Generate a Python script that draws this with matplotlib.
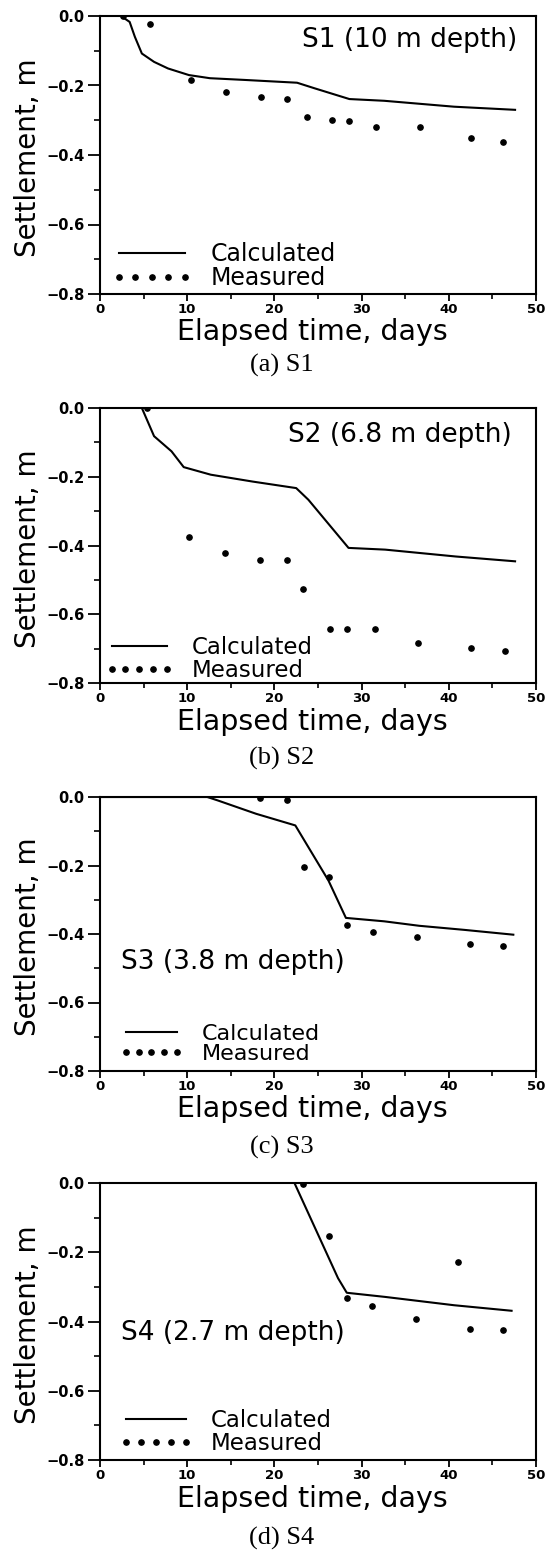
import matplotlib
matplotlib.use('Agg')
import matplotlib.pyplot as plt
import matplotlib.ticker as ticker
from matplotlib.lines import Line2D

# values (days, settlement in m)
s1_calc_days = [2.4, 3.4, 4.0, 4.8, 6.2, 7.8, 10.2, 12.6, 16.6, 22.6, 24.6, 28.6, 32.6, 40.6, 47.6]
s1_calc_settle = [0.0, -0.017, -0.060, -0.108, -0.132, -0.151, -0.170, -0.179, -0.184, -0.192, -0.208, -0.239, -0.244, -0.261, -0.270]
s1_meas_days = [2.6, 5.7, 10.4, 14.5, 18.5, 21.5, 23.7, 26.6, 28.6, 31.6, 36.7, 42.5, 46.2]
s1_meas_settle = [0.0, -0.022, -0.184, -0.220, -0.233, -0.238, -0.291, -0.299, -0.301, -0.318, -0.320, -0.352, -0.362]

s2_calc_days = [4.8, 6.2, 8.2, 9.6, 12.7, 17.5, 22.5, 23.9, 28.5, 32.7, 40.8, 47.6]
s2_calc_settle = [0.0, -0.082, -0.126, -0.172, -0.194, -0.214, -0.233, -0.267, -0.407, -0.412, -0.432, -0.446]
s2_meas_days = [5.4, 10.2, 14.3, 18.4, 21.4, 23.3, 26.4, 28.3, 31.5, 36.5, 42.6, 46.4]
s2_meas_settle = [0.0, -0.376, -0.423, -0.443, -0.443, -0.526, -0.644, -0.644, -0.643, -0.683, -0.697, -0.706]

s3_calc_days = [0.0, 12.3, 13.5, 17.9, 22.4, 26.2, 28.2, 32.6, 36.6, 41.8, 47.4]
s3_calc_settle = [0.0, 0.0, -0.010, -0.049, -0.083, -0.244, -0.353, -0.363, -0.376, -0.388, -0.402]
s3_meas_days = [18.4, 21.4, 23.4, 26.3, 28.3, 31.3, 36.4, 42.4, 46.2]
s3_meas_settle = [-0.002, -0.010, -0.205, -0.235, -0.373, -0.394, -0.410, -0.428, -0.435]

s4_calc_days = [22.3, 27.3, 28.3, 32.7, 40.6, 47.2]
s4_calc_settle = [0.0, -0.275, -0.317, -0.329, -0.353, -0.369]
s4_meas_days = [23.3, 26.3, 28.3, 31.2, 36.2, 41.1, 42.4, 46.2]
s4_meas_settle = [-0.002, -0.153, -0.331, -0.354, -0.392, -0.228, -0.423, -0.425]

panel_tags = ['S1 (10 m depth)', 'S2 (6.8 m depth)', 'S3 (3.8 m depth)', 'S4 (2.7 m depth)']
panel_captions = ['(a) S1', '(b) S2', '(c) S3', '(d) S4']
legend_labels = ['Calculated', 'Measured']

FIG_W = 547
FIG_H = 1551


def minus_format(value, pos):
    return f'{value:.1f}'.replace('-', '\u2212') if abs(value) > 1e-9 else '0.0'


def draw_panel(fig, layout, calc_t, calc_s, meas_t, meas_s, tag, caption):
    top, bottom = layout['top'], layout['bottom']
    ax = fig.add_axes([100 / FIG_W, 1 - bottom / FIG_H, 436 / FIG_W, (bottom - top) / FIG_H])
    ax.plot(calc_t, calc_s, color='k', lw=1.5, solid_joinstyle='round')
    ax.plot(meas_t, meas_s, ls='none', marker='o', ms=3.8, color='k')
    ax.set_xlim(0, 50)
    ax.set_ylim(-0.8, 0)

    ax.xaxis.set_major_locator(ticker.MultipleLocator(10))
    ax.xaxis.set_minor_locator(ticker.MultipleLocator(5))
    ax.yaxis.set_major_locator(ticker.MultipleLocator(0.2))
    ax.yaxis.set_minor_locator(ticker.MultipleLocator(0.1))
    ax.yaxis.set_major_formatter(ticker.FuncFormatter(minus_format))
    ax.tick_params(axis='y', which='major', direction='out', length=9, width=1.3, pad=2, labelsize=10.5)
    ax.tick_params(axis='y', which='minor', direction='out', length=4, width=1.2)
    ax.tick_params(axis='x', which='major', direction='out', length=5, width=1.3, pad=1.5, labelsize=9.5)
    ax.tick_params(axis='x', which='minor', direction='out', length=3.5, width=1.2)
    plt.setp(ax.get_xticklabels() + ax.get_yticklabels(), fontweight='bold')
    for spine in ax.spines.values():
        spine.set_linewidth(1.5)

    h = bottom - top
    ax.set_xlabel('Elapsed time, days', fontsize=20.5)
    ax.xaxis.label.set_va('center')
    ax.xaxis.set_label_coords(0.488, 1 - (layout['xlabel_y'] - top) / h)
    ax.set_ylabel('Settlement, m', fontsize=20)
    ax.yaxis.label.set_va('center')
    ax.yaxis.set_label_coords(-0.165, 0.49)

    ax.text(layout['tag_x'], layout['tag_y'], tag, transform=ax.transAxes,
            ha=layout['tag_ha'], va='center', fontsize=19)

    handles = [Line2D([], [], color='k', lw=1.5),
               Line2D([], [], ls='none', marker='o', ms=3.8, color='k')]
    ax.legend(handles, legend_labels, loc='center left', bbox_to_anchor=layout['legend_xy'],
              frameon=False, numpoints=5, handlelength=layout['handle_len'], handletextpad=0.8,
              labelspacing=0.0, borderpad=0, borderaxespad=0, fontsize=layout['legend_size'])

    fig.text(282 / FIG_W, 1 - layout['caption_y'] / FIG_H, caption, ha='center', va='center',
             family='Liberation Serif', fontsize=19)
    return ax


if __name__ == "__main__":
    plt.rcParams['font.family'] = ['DejaVu Sans']
    fig = plt.figure(figsize=(FIG_W / 100, FIG_H / 100), dpi=100)

    layouts = [
        dict(top=16, bottom=294, xlabel_y=332, caption_y=365, tag_x=0.956, tag_y=0.914, tag_ha='right',
             legend_xy=(0.027, 0.101), legend_size=17, handle_len=3.4),
        dict(top=408, bottom=683, xlabel_y=722, caption_y=758, tag_x=0.945, tag_y=0.902, tag_ha='right',
             legend_xy=(0.011, 0.089), legend_size=16.5, handle_len=3.0),
        dict(top=797, bottom=1071, xlabel_y=1109, caption_y=1147, tag_x=0.048, tag_y=0.398, tag_ha='left',
             legend_xy=(0.044, 0.100), legend_size=16, handle_len=2.9),
        dict(top=1183, bottom=1460, xlabel_y=1499, caption_y=1538, tag_x=0.048, tag_y=0.457, tag_ha='left',
             legend_xy=(0.044, 0.101), legend_size=16.5, handle_len=3.2),
    ]
    series = [
        (s1_calc_days, s1_calc_settle, s1_meas_days, s1_meas_settle),
        (s2_calc_days, s2_calc_settle, s2_meas_days, s2_meas_settle),
        (s3_calc_days, s3_calc_settle, s3_meas_days, s3_meas_settle),
        (s4_calc_days, s4_calc_settle, s4_meas_days, s4_meas_settle),
    ]
    for layout, data, tag, caption in zip(layouts, series, panel_tags, panel_captions):
        draw_panel(fig, layout, *data, tag, caption)

    fig.savefig('out.png', dpi=100)
